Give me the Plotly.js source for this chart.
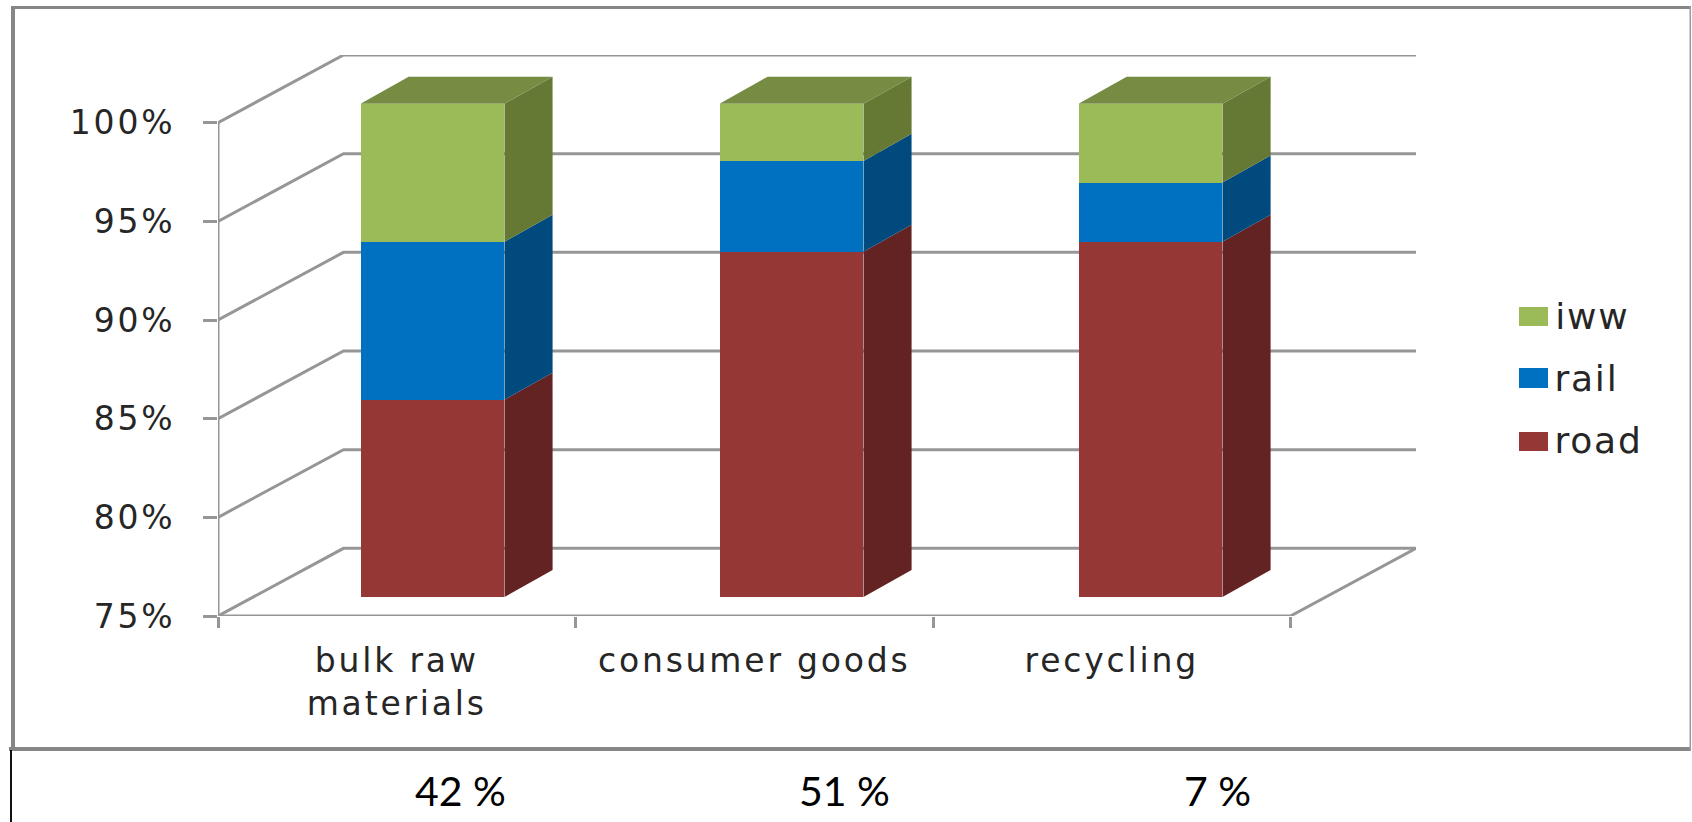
<!DOCTYPE html>
<html>
<head>
<meta charset="utf-8">
<script src="https://cdn.plot.ly/plotly-3.0.1.min.js"></script>
<style>
  html, body { margin: 0; padding: 0; background: #fff; overflow: hidden; }
  #chart { width: 1692px; height: 822px; }
  .xtick text, .x3tick text, .ytick text { letter-spacing: 0.085em; }
  .annotation[data-index="0"] text, .annotation[data-index="1"] text, .annotation[data-index="2"] text { letter-spacing: 0.05em; }
</style>
</head>
<body>
<div id="chart"></div>
<script>
// Freight mode split per goods group, stacked on a 75-100 % axis
const categories = ['bulk raw<br>materials', 'consumer goods', 'recycling'];
const road = [85, 92.5, 93];
const rail = [8, 4.6, 3];
const iww = [7, 2.9, 4];
const shares = ['42 %', '51 %', '7 %'];
const yTicks = [75, 80, 85, 90, 95, 100];
const legendNames = ['iww', 'rail', 'road'];

const W = 1692, H = 822;
const PX = { left: 218, right: 1416, top: 55, bottom: 616, barBase: 597, barShift: 35 };
const RANGE_X = 3.351, RANGE_X_BARS = 3.337, RANGE_Y_TOP = 103.43;
const unitY = (PX.bottom - PX.top) / (RANGE_Y_TOP - 75);

// Oblique projection of the chart box and of the bars, in axis units
const wallDx = 0.351, wallDy = 3.43;
const barWidth = 0.401, barDx = 0.134, barDy = 1.37;

const colors = {
  road: { front: '#953735', side: '#632322' },
  rail: { front: '#0070C0', side: '#004A7E' },
  iww: { front: '#9BBB59', side: '#657935', top: '#768C42' }
};
const gridColor = '#969696', textColor = '#262626';

const centers = categories.map((_, i) => i + 0.5);
const traces = [];

function frameLine(xs, ys, xa) {
  traces.push({ type: 'scatter', mode: 'lines', x: xs, y: ys, xaxis: xa || 'x', yaxis: 'y',
    line: { color: gridColor, width: 3 }, hoverinfo: 'skip', showlegend: false, cliponaxis: false });
}

// Back wall grid lines with their slanted run along the side wall
yTicks.forEach(v => frameLine([0, wallDx, 3 + wallDx], [v, v + wallDy, v + wallDy]));
// Floor edge on the right, value axis and category axis lines
frameLine([3, 3 + wallDx], [75, 75 + wallDy]);
frameLine([0, 0], [75, 100]);
frameLine([0, 3], [75, 75], 'x3');

// Front faces
[['road', road], ['rail', rail], ['iww', iww]].forEach(([name, values]) => {
  traces.push({ type: 'bar', name, x: centers, y: values, width: barWidth,
    xaxis: 'x2', yaxis: 'y2', marker: { color: colors[name].front, line: { width: 0 } },
    showlegend: false });
});

function face(xs, ys, color) {
  traces.push({ type: 'scatter', mode: 'lines', x: xs, y: ys, xaxis: 'x2', yaxis: 'y2',
    fill: 'toself', fillcolor: color, line: { width: 0, color: color },
    hoverinfo: 'skip', showlegend: false });
}

// Side faces for every stacked segment, top face on the last one
categories.forEach((_, i) => {
  const xl = centers[i] - barWidth / 2, xr = centers[i] + barWidth / 2;
  const t1 = road[i], t2 = t1 + rail[i], t3 = t2 + iww[i];
  face([xr, xr + barDx, xr + barDx, xr, xr], [75, 75 + barDy, t1 + barDy, t1, 75], colors.road.side);
  face([xr, xr + barDx, xr + barDx, xr, xr], [t1, t1 + barDy, t2 + barDy, t2, t1], colors.rail.side);
  face([xr, xr + barDx, xr + barDx, xr, xr], [t2, t2 + barDy, t3 + barDy, t3, t2], colors.iww.side);
  face([xl, xl + barDx, xr + barDx, xr, xl], [t3, t3 + barDy, t3 + barDy, t3, t3], colors.iww.top);
});

const baseFont = { family: 'DejaVu Sans', size: 33, color: textColor };
const legendFont = { family: 'DejaVu Sans', size: 36, color: textColor };
const domX = [PX.left / W, PX.right / W];
const domY = [1 - PX.bottom / H, 1 - PX.top / H];

const layout = {
  width: W, height: H,
  margin: { l: 0, r: 0, t: 0, b: 0 },
  paper_bgcolor: '#fff', plot_bgcolor: 'rgba(0,0,0,0)',
  barmode: 'stack',
  showlegend: false,
  xaxis: { domain: domX, range: [0, RANGE_X], tickmode: 'array', tickvals: [0, 1, 2, 3],
    showticklabels: false, ticks: 'outside', ticklen: 11, tickwidth: 3, tickcolor: gridColor,
    showgrid: false, zeroline: false, showline: false, anchor: 'y' },
  xaxis3: { domain: domX, range: [0, RANGE_X], overlaying: 'x', anchor: 'y', tickmode: 'array',
    tickvals: centers, ticktext: categories, ticks: '', ticklabelstandoff: 22, tickfont: baseFont,
    showgrid: false, zeroline: false, showline: false },
  yaxis: { domain: domY, range: [75, RANGE_Y_TOP], tickmode: 'array', tickvals: yTicks,
    ticktext: yTicks.map(v => v + '%'), tickfont: baseFont, ticks: 'outside', ticklen: 14,
    tickwidth: 3, tickcolor: gridColor, ticklabelstandoff: 21,
    showgrid: false, zeroline: false, showline: false, anchor: 'x' },
  // The bars stand on their own pair of axes, set forward from the back wall
  xaxis2: { domain: [(PX.left + PX.barShift) / W, (PX.right + PX.barShift) / W], range: [0, RANGE_X_BARS],
    anchor: 'y2', visible: false },
  yaxis2: { domain: [1 - PX.barBase / H, domY[1]], range: [75, 75 + (PX.barBase - PX.top) / unitY],
    anchor: 'x2', visible: false },
  shapes: [
    { x0: 11, x1: 15, y0: 6, y1: 750 },
    { x0: 11, x1: 1691, y0: 6, y1: 9 },
    { x0: 9, x1: 1691, y0: 747, y1: 751 },
    { x0: 1689.5, x1: 1691, y0: 6, y1: 751, color: '#9a9a9a' },
    { x0: 10, x1: 12, y0: 750, y1: 822, color: '#111' },
    { x0: 1519, x1: 1548, y0: 307, y1: 326, color: colors.iww.front },
    { x0: 1519, x1: 1548, y0: 368, y1: 388, color: colors.rail.front },
    { x0: 1519, x1: 1548, y0: 432, y1: 451, color: colors.road.front }
  ].map(s => ({ type: 'rect', xref: 'paper', yref: 'paper', x0: s.x0 / W, x1: s.x1 / W,
    y0: 1 - s.y0 / H, y1: 1 - s.y1 / H, fillcolor: s.color || '#868686', line: { width: 0 },
    layer: 'above' })),
  annotations: [
    ...legendNames.map((name, i) => ({ text: name, xref: 'paper', yref: 'paper', x: 1556 / W,
      y: 1 - [316, 378, 440][i] / H, xanchor: 'left', yanchor: 'middle', showarrow: false,
      font: legendFont, captureevents: false })),
    ...shares.map((text, i) => ({ text, xref: 'paper', yref: 'paper', x: [460, 844, 1217][i] / W,
      y: 1 - 790 / H, xanchor: 'center', yanchor: 'middle', showarrow: false,
      font: { family: 'Lato', size: 41, color: '#000' } }))
  ]
};

Plotly.newPlot('chart', traces, layout, { displayModeBar: false, staticPlot: true });
</script>
</body>
</html>
